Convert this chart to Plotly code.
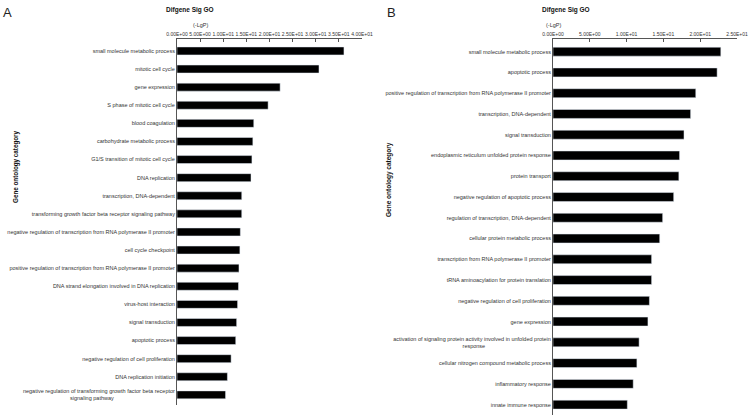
import plotly.graph_objects as go

# ---- Data ----
cats_a = [
    "small molecule metabolic process",
    "mitotic cell cycle",
    "gene expression",
    "S phase of mitotic cell cycle",
    "blood coagulation",
    "carbohydrate metabolic process",
    "G1/S transition of mitotic cell cycle",
    "DNA replication",
    "transcription, DNA-dependent",
    "transforming growth factor beta receptor signaling pathway",
    "negative regulation of transcription from RNA polymerase II promoter",
    "cell cycle checkpoint",
    "positive regulation of transcription from RNA polymerase II promoter",
    "DNA strand elongation involved in DNA replication",
    "virus-host interaction",
    "signal transduction",
    "apoptotic process",
    "negative regulation of cell proliferation",
    "DNA replication initiation",
    "negative regulation of transforming growth factor beta receptor<br>signaling pathway\u00a0\u00a0\u00a0\u00a0\u00a0\u00a0\u00a0\u00a0\u00a0\u00a0\u00a0\u00a0\u00a0\u00a0\u00a0\u00a0\u00a0\u00a0\u00a0\u00a0\u00a0\u00a0\u00a0\u00a0\u00a0\u00a0\u00a0\u00a0\u00a0\u00a0\u00a0\u00a0\u00a0\u00a0\u00a0\u00a0\u00a0\u00a0\u00a0\u00a0",
]
vals_a = [36.1, 30.7, 22.3, 19.7, 16.6, 16.4, 16.2, 16.0, 14.0, 14.0,
          13.7, 13.6, 13.4, 13.3, 13.1, 12.9, 12.7, 11.7, 10.9, 10.5]

cats_b = [
    "small molecule metabolic process",
    "apoptotic process",
    "positive regulation of transcription from RNA polymerase II promoter",
    "transcription, DNA-dependent",
    "signal transduction",
    "endoplasmic reticulum unfolded protein response",
    "protein transport",
    "negative regulation of apoptotic process",
    "regulation of transcription, DNA-dependent",
    "cellular protein metabolic process",
    "transcription from RNA polymerase II promoter",
    "tRNA aminoacylation for protein translation",
    "negative regulation of cell proliferation",
    "gene expression",
    "activation of signaling protein activity involved in unfolded protein<br>response\u00a0\u00a0\u00a0\u00a0\u00a0\u00a0\u00a0\u00a0\u00a0\u00a0\u00a0\u00a0\u00a0\u00a0\u00a0\u00a0\u00a0\u00a0\u00a0\u00a0\u00a0\u00a0\u00a0\u00a0\u00a0\u00a0\u00a0\u00a0\u00a0\u00a0\u00a0\u00a0\u00a0\u00a0\u00a0\u00a0\u00a0\u00a0\u00a0\u00a0\u00a0\u00a0\u00a0",
    "cellular nitrogen compound metabolic process",
    "inflammatory response",
    "innate immune response",
]
vals_b = [22.8, 22.3, 19.4, 18.7, 17.8, 17.2, 17.1, 16.4, 14.9, 14.5,
          13.4, 13.4, 13.1, 12.9, 11.7, 11.4, 10.9, 10.1]

tickvals_a = [0, 5, 10, 15, 20, 25, 30, 35, 40]
ticktext_a = ["0.00E+00", "5.00E+00", "1.00E+01", "1.50E+01", "2.00E+01",
              "2.50E+01", "3.00E+01", "3.50E+01", "4.00E+01"]
tickvals_b = [0, 5, 10, 15, 20, 25]
ticktext_b = ["0.00E+00", "5.00E+00", "1.00E+01", "1.50E+01", "2.00E+01", "2.50E+01"]

W, H = 750, 419
FONT = "Liberation Sans, Arial, sans-serif"
LINE = "#555555"

def px(x):
    return x / W

def py(y):
    return 1 - y / H

fig = go.Figure()
fig.add_trace(go.Bar(x=vals_a, y=cats_a, orientation="h", marker_color="black",
                     width=0.44, xaxis="x", yaxis="y", showlegend=False))
fig.add_trace(go.Bar(x=vals_b, y=cats_b, orientation="h", marker_color="black",
                     width=0.43, xaxis="x2", yaxis="y2", showlegend=False))

xcommon = dict(side="top", showline=True, linecolor=LINE, linewidth=1,
               ticks="inside", ticklen=3, tickcolor=LINE, showgrid=False,
               zeroline=False, tickfont=dict(size=5, color="#333", family=FONT),
               tickmode="array", tickangle=0, automargin=False)
ycommon = dict(type="category", showline=True, linecolor=LINE, linewidth=1,
               ticks="", showgrid=False, zeroline=False, automargin=False,
               tickfont=dict(size=5.5, color="#333", family=FONT))

fig.update_layout(
    width=W, height=H,
    margin=dict(l=0, r=0, t=0, b=0),
    paper_bgcolor="white", plot_bgcolor="white",
    font=dict(family=FONT),
    bargap=0.5,
    xaxis=dict(domain=[px(177), px(362)], range=[0, 40], anchor="y",
               tickvals=tickvals_a, ticktext=ticktext_a, **xcommon),
    yaxis=dict(domain=[py(405), py(39)], range=[19.56, -0.66], anchor="x",
               categoryorder="array", categoryarray=cats_a, **ycommon),
    xaxis2=dict(domain=[px(553), px(737)], range=[0, 25], anchor="y2",
                tickvals=tickvals_b, ticktext=ticktext_b, **xcommon),
    yaxis2=dict(domain=[py(415), py(39)], range=[17.50, -0.61], anchor="x2",
                categoryorder="array", categoryarray=cats_b, **ycommon),
)

ann = [
    dict(text="A", x=px(7), y=py(12), xanchor="center", yanchor="middle",
         font=dict(size=13, color="#222")),
    dict(text="B", x=px(391), y=py(12), xanchor="center", yanchor="middle",
         font=dict(size=13, color="#222")),
    dict(text="<b>Difgene Sig GO</b>", x=px(190), y=py(10), xanchor="center",
         yanchor="middle", font=dict(size=6.5, color="#111")),
    dict(text="<b>Difgene Sig GO</b>", x=px(566), y=py(10), xanchor="center",
         yanchor="middle", font=dict(size=6.5, color="#111")),
    dict(text="(-LgP)", x=px(200), y=py(25.5), xanchor="center", yanchor="middle",
         font=dict(size=5.5, color="#333")),
    dict(text="(-LgP)", x=px(553), y=py(25), xanchor="center", yanchor="middle",
         font=dict(size=5.5, color="#333")),
    dict(text="<b>Gene ontology category</b>", x=px(16), y=py(167), textangle=-90,
         xanchor="center", yanchor="middle", font=dict(size=6.3, color="#111")),
    dict(text="<b>Gene ontology category</b>", x=px(389), y=py(180), textangle=-90,
         xanchor="center", yanchor="middle", font=dict(size=6.5, color="#111")),
]
for a in ann:
    a.update(xref="paper", yref="paper", showarrow=False)
fig.update_layout(annotations=ann)

# remove the default 8px page margin so the figure fills the window exactly
fig.write_html("out.html",
               config={"displayModeBar": False},
               post_script="document.body.style.margin='0';"
                           "document.body.style.overflow='hidden';")
